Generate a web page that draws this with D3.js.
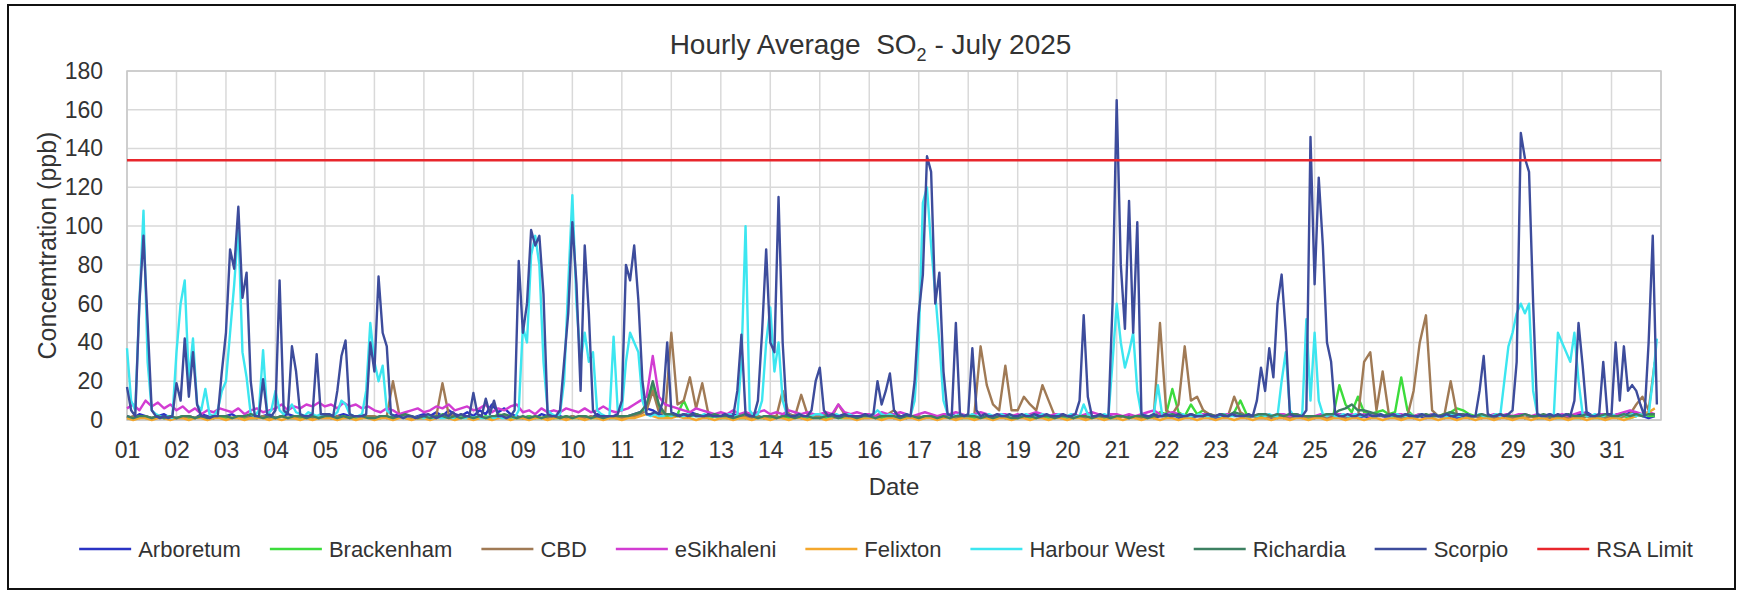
<!DOCTYPE html>
<html>
<head>
<meta charset="utf-8">
<script src="https://cdn.jsdelivr.net/npm/d3@7"></script>
<style>
  body { margin: 0; background: #fff; }
  text { font-family: "Liberation Sans", Arial, sans-serif; fill: #333; }
</style>
</head>
<body>
<div id="chart-area"></div>
<script>
// DATA (ppb). Scorpio and Harbour West read every 2 hours, the rest every 3 hours.
const stations = ["Arboretum", "Brackenham", "CBD", "eSikhaleni", "Felixton", "Harbour West", "Richardia", "Scorpio"];
const stationColors = ["#2a33c4", "#3cdc3c", "#a07a55", "#d23cd2", "#f4a72c", "#3ce6f0", "#3d8062", "#3d4c9c"];
const rsaLimit = 134;
const dayLabels = d3.range(1, 32).map(d => d3.format("02")(d));
const yTicks = d3.range(0, 181, 20);

const arboretum = [
  2,1,3,2,1,2,3,1, 1,2,2,1,3,2,1,2, 2,3,1,2,2,1,2,3, 1,2,3,2,1,2,2,1,
  2,1,2,3,2,1,2,2, 1,2,1,2,3,2,1,2, 3,2,4,2,5,3,2,4, 2,5,3,8,4,6,3,2,
  1,2,1,3,2,1,2,1, 2,1,2,1,3,2,1,2, 1,2,3,4,6,5,3,2, 2,3,2,4,3,2,1,2,
  1,2,3,2,1,2,2,1, 2,1,2,3,2,1,2,2, 1,2,1,2,3,2,1,2, 2,1,3,2,1,2,1,2,
  1,2,2,1,2,3,2,1, 2,1,2,2,1,2,1,2, 1,2,1,3,2,1,2,1, 2,1,2,1,2,1,2,2,
  1,2,2,1,3,2,1,2, 2,3,1,2,1,2,2,1, 1,2,2,3,2,1,2,2, 2,1,2,1,2,3,2,1,
  1,2,1,2,3,2,2,1, 2,1,2,2,1,2,1,2, 1,2,1,2,2,1,2,1, 2,1,2,1,2,2,1,2,
  1,2,1,2,1,2,1,2, 2,1,2,3,4,2,1,2, 2,3,2,4,3,2,1,2
];
const brackenham = [
  1,1,2,1,1,2,1,1, 1,2,1,1,2,1,1,2, 1,1,2,1,1,1,2,1, 1,2,1,1,1,2,1,1,
  2,1,1,2,1,1,1,2, 1,1,2,1,2,1,1,1, 1,2,1,3,2,1,2,1, 1,1,2,1,3,2,1,1,
  1,2,1,1,2,1,1,2, 1,1,2,1,1,2,1,1, 1,2,2,3,6,17,6,2, 2,3,10,3,2,2,1,2,
  1,1,2,1,1,2,1,1, 1,2,1,1,2,1,1,2, 1,1,2,1,1,1,2,1, 2,1,1,2,1,1,1,2,
  1,2,1,1,2,1,1,1, 1,1,2,1,1,2,1,1, 1,2,1,1,2,1,1,2, 1,1,2,1,1,2,1,1,
  1,2,1,2,2,1,2,4, 3,16,4,2,8,3,5,2, 2,3,2,4,10,3,2,2, 1,2,1,2,3,2,2,1,
  2,2,3,2,18,8,4,12, 4,3,4,5,3,4,22,5, 2,3,2,3,2,3,4,6, 5,3,2,2,1,2,2,1,
  1,2,1,2,1,1,2,1, 1,2,1,1,2,1,1,2, 2,1,2,1,2,3,2,2
];
const cbd = [
  1,2,1,2,1,2,1,1, 1,1,2,1,2,1,1,2, 2,1,1,2,1,1,2,1, 1,2,1,1,2,1,1,1,
  1,1,2,1,1,2,1,2, 2,1,2,20,3,2,1,1, 1,2,2,19,3,2,1,2, 1,2,1,2,1,2,2,1,
  1,1,2,1,1,2,1,1, 2,1,1,2,1,1,2,1, 1,2,2,3,5,15,4,3, 45,8,10,22,6,19,3,2,
  2,1,2,1,2,1,2,1, 2,2,15,3,2,13,3,2, 2,3,2,8,3,2,2,1, 1,2,2,3,5,2,1,2,
  2,1,2,1,2,1,1,2, 2,3,38,18,8,5,28,5, 5,12,8,5,18,10,2,2, 2,1,2,1,2,1,2,1,
  1,2,1,2,1,2,2,50, 5,3,8,38,10,12,5,3, 2,3,2,12,4,2,2,1, 1,2,1,2,1,2,1,2,
  1,2,1,2,2,1,2,1, 30,35,5,25,3,2,1,2, 15,40,54,5,2,3,20,3, 2,1,2,1,2,1,2,1,
  1,2,1,2,1,1,2,1, 2,1,2,1,2,1,2,1, 2,1,2,3,8,12,5,30
];
const eSikhaleni = [
  6,8,5,10,7,9,6,8, 5,7,4,6,3,5,4,6, 5,4,6,3,5,6,4,5, 6,8,5,7,6,8,7,9,
  7,8,6,9,7,8,6,7, 5,4,6,5,3,4,5,6, 4,5,7,6,8,5,6,7, 5,6,8,4,6,5,7,8,
  4,5,3,6,4,5,4,6, 5,4,6,4,5,7,5,4, 5,6,8,10,12,33,12,8, 7,6,5,4,6,5,4,3,
  4,3,5,3,4,3,4,5, 3,4,3,5,4,3,4,3, 3,4,3,8,4,3,4,3, 3,2,4,3,3,4,3,2,
  3,4,3,2,3,3,4,3, 2,3,4,3,2,3,3,2, 3,2,3,4,3,2,3,3, 2,3,2,3,4,3,2,3,
  3,2,3,2,3,4,5,3, 3,4,3,2,3,2,3,3, 2,3,3,2,3,2,2,3, 3,2,3,3,2,3,2,2,
  2,3,2,3,3,2,3,2, 3,2,3,2,2,3,3,2, 2,3,2,3,2,2,3,2, 3,2,2,3,2,3,2,3,
  2,3,3,2,3,2,3,2, 3,2,3,4,3,2,3,3, 2,3,4,5,4,3,4,3
];
const felixton = [
  1,0,1,1,0,1,1,0, 1,1,0,1,1,0,1,1, 0,1,1,0,1,1,1,0, 1,0,1,1,0,1,0,1,
  1,1,0,1,1,0,1,1, 0,1,1,0,1,1,0,1, 1,0,1,1,1,0,1,1, 0,1,1,0,1,1,0,1,
  1,0,1,1,0,1,1,0, 1,1,0,1,1,0,1,1, 0,1,1,2,3,2,1,1, 1,2,1,1,0,1,1,0,
  1,1,0,1,1,0,1,1, 0,1,1,0,1,1,0,1, 1,0,1,2,1,1,0,1, 1,1,0,1,1,0,1,1,
  0,1,1,0,1,1,0,1, 1,0,1,1,0,1,1,0, 1,1,0,1,1,0,1,1, 0,1,1,0,1,1,0,1,
  1,0,1,1,0,1,1,0, 1,1,0,1,1,0,1,1, 0,1,1,0,1,1,0,1, 1,0,1,1,0,1,1,0,
  1,1,0,1,1,0,1,1, 0,1,1,0,1,1,0,1, 1,0,1,1,0,1,1,0, 1,1,0,1,1,0,1,1,
  0,1,1,0,1,1,0,1, 1,0,1,1,0,1,1,0, 1,1,0,1,2,3,4,6
];
const richardia = [
  2,1,2,2,1,2,1,2, 1,2,2,1,2,1,2,2, 2,1,2,2,3,2,1,2, 1,2,1,2,2,1,2,1,
  2,2,1,2,1,2,2,1, 1,2,2,1,2,3,2,1, 2,1,2,2,1,2,1,2, 1,2,1,2,2,3,2,1,
  2,1,2,1,2,2,1,2, 1,2,2,1,2,1,2,2, 2,2,3,4,8,20,8,3, 3,2,3,2,3,2,2,3,
  2,2,1,2,3,2,1,2, 2,1,2,2,1,2,2,1, 1,2,2,1,2,2,1,2, 2,1,2,2,2,1,2,2,
  1,2,2,1,2,1,2,2, 2,2,1,2,1,2,2,1, 1,2,2,1,2,2,1,2, 2,1,2,2,1,2,2,1,
  2,2,1,2,2,1,2,2, 2,3,2,2,3,2,2,3, 2,3,2,4,3,2,2,3, 3,2,3,2,3,3,2,2,
  2,2,3,3,5,6,8,5, 5,4,3,2,3,2,2,3, 2,2,3,2,2,3,4,3, 3,2,2,3,2,2,3,2,
  2,2,3,2,2,3,2,2, 2,3,2,2,3,2,2,3, 2,2,3,2,3,2,3,3
];
const harbourWest = [
  37,10,5,60,108,30,5,3,2,1,2,1,    35,60,72,20,42,8,5,16,3,2,5,15,
  20,45,70,100,35,22,3,2,5,36,3,5,  15,5,3,5,8,4,3,2,4,3,2,3,
  2,3,2,4,10,8,3,2,2,3,15,50,       30,20,28,5,3,2,2,1,2,2,1,2,
  1,2,1,2,1,1,2,1,2,1,1,2,          1,2,1,1,2,1,2,1,1,2,1,5,
  48,40,85,95,80,30,5,3,2,3,20,70,  116,60,30,45,30,35,5,3,2,2,43,5,
  5,30,45,40,35,10,3,2,3,2,2,3,     2,3,2,2,3,2,2,2,3,2,2,2,
  2,2,3,2,2,30,100,5,2,3,10,40,     58,25,40,10,3,2,2,3,2,2,2,3,
  3,2,2,2,3,2,2,3,2,2,2,2,          2,3,5,3,2,3,2,2,2,3,2,10,
  40,112,120,90,65,40,10,3,2,2,3,2, 2,3,2,2,2,3,2,2,3,2,2,2,
  2,2,3,2,2,2,3,2,2,2,3,2,          2,3,2,2,8,3,2,2,2,3,2,30,
  60,40,27,35,45,15,3,2,2,3,18,3,   2,3,2,2,3,2,2,2,3,2,2,2,
  2,2,3,2,2,2,3,2,2,2,2,3,          2,3,2,2,20,35,5,2,2,3,52,10,
  45,10,3,2,3,2,2,3,2,2,3,2,        2,3,2,2,3,2,2,2,3,2,2,3,
  2,2,3,2,2,3,2,2,2,3,2,2,          2,3,2,2,3,2,2,2,3,2,20,38,
  45,55,60,55,60,15,3,2,2,3,2,45,   40,35,30,45,20,3,2,2,3,2,2,3,
  3,2,2,3,2,3,2,3,2,3,20,42
];
const scorpio = [
  17,5,2,60,95,50,5,2,1,2,1,2,      19,10,42,12,35,8,2,2,1,2,2,25,
  45,88,78,110,63,76,20,2,2,21,3,2, 5,72,5,3,38,25,3,2,2,3,34,3,
  3,3,2,15,33,41,3,2,2,2,3,40,      25,74,45,38,3,2,2,1,2,2,1,2,
  2,3,2,1,2,3,2,4,2,3,2,2,          14,3,2,11,3,10,2,2,1,2,5,82,
  45,60,98,90,95,65,3,2,2,5,30,55,  102,70,15,90,55,5,2,2,2,2,2,3,
  10,80,72,90,62,20,3,3,4,3,10,40,  4,3,2,3,2,3,2,2,2,3,2,2,
  2,3,2,2,15,44,3,2,2,10,45,88,     40,35,115,40,3,2,2,3,2,2,5,20,
  27,5,2,3,2,2,3,2,2,2,2,3,         2,3,20,8,15,24,5,2,2,3,2,20,
  55,75,136,128,60,76,25,3,2,50,3,2, 3,37,5,2,3,2,2,3,2,2,3,2,
  2,3,2,2,3,2,2,3,2,2,2,3,          2,2,3,10,54,12,2,2,3,2,2,60,
  165,80,47,113,45,102,3,2,2,3,2,2, 3,2,2,3,2,2,3,2,2,2,3,2,
  2,3,2,2,3,2,2,2,3,2,10,27,        15,37,22,60,75,45,3,2,2,2,5,146,
  70,125,90,40,30,3,2,2,3,2,2,3,    2,3,2,2,3,2,2,3,2,2,3,2,
  2,2,3,2,2,3,2,2,3,2,2,3,          2,3,2,2,15,33,3,2,2,3,2,3,
  5,30,148,135,128,60,3,2,2,3,2,3,  2,3,2,10,50,28,3,2,2,3,30,3,
  3,40,10,38,15,18,15,8,2,40,95,8
];

const stationValues = [arboretum, brackenham, cbd, eSikhaleni, felixton, harbourWest, richardia, scorpio];
const stationStep = [3, 3, 3, 3, 3, 2, 3, 2]; // hours between readings

// LAYOUT
const W = 1741, H = 592;
const margin = { left: 127, top: 71, right: 80, bottom: 172 };
const width = W - margin.left - margin.right,
      height = H - margin.top - margin.bottom;

const x = d3.scaleLinear().domain([0, 31 * 24]).range([0, width]);
const y = d3.scaleLinear().domain([0, 180]).range([height, 0]);

const svg = d3.select("#chart-area").append("svg")
    .attr("width", W)
    .attr("height", H);

// outer frame
svg.append("rect")
    .attr("x", 8).attr("y", 5)
    .attr("width", 1727).attr("height", 584)
    .attr("fill", "#fff")
    .attr("stroke", "#111")
    .attr("stroke-width", 2);

const g = svg.append("g")
    .attr("transform", "translate(" + margin.left + "," + margin.top + ")");

// gridlines
g.append("g").selectAll("line").data(yTicks).join("line")
    .attr("x1", 0).attr("x2", width)
    .attr("y1", d => y(d)).attr("y2", d => y(d))
    .attr("stroke", "#d9d9d9").attr("stroke-width", 1.5);

g.append("g").selectAll("line").data(d3.range(0, 32)).join("line")
    .attr("x1", d => x(d * 24)).attr("x2", d => x(d * 24))
    .attr("y1", 0).attr("y2", height)
    .attr("stroke", "#d9d9d9").attr("stroke-width", 1.5);

g.append("rect")
    .attr("width", width).attr("height", height)
    .attr("fill", "none")
    .attr("stroke", "#c8c8c8").attr("stroke-width", 1.5);

// axes
const xAxisCall = d3.axisBottom(x)
    .tickValues(d3.range(0, 31).map(d => d * 24))
    .tickFormat((d, i) => dayLabels[i])
    .tickSize(0)
    .tickPadding(22);

const yAxisCall = d3.axisLeft(y)
    .tickValues(yTicks)
    .tickSize(0)
    .tickPadding(24);

const xAxis = g.append("g")
    .attr("transform", "translate(0," + height + ")")
    .call(xAxisCall);
const yAxis = g.append("g").call(yAxisCall);

[xAxis, yAxis].forEach(a => {
    a.select(".domain").remove();
    a.selectAll("text")
        .attr("fill", "#333")
        .style("font-size", "23px")
        .style("font-family", "'Liberation Sans', Arial, sans-serif");
});

// lines
const line = step => d3.line()
    .x((d, i) => x(i * step))
    .y(d => y(d));

stations.forEach((name, i) => {
    g.append("path")
        .attr("fill", "none")
        .attr("stroke", stationColors[i])
        .attr("stroke-width", 2.4)
        .attr("stroke-linejoin", "round")
        .attr("d", line(stationStep[i])(stationValues[i]));
});

g.append("path")
    .attr("fill", "none")
    .attr("stroke", "#e8262c")
    .attr("stroke-width", 2.5)
    .attr("d", d3.line().x(d => x(d[0])).y(d => y(d[1]))([[0, rsaLimit], [31 * 24, rsaLimit]]));

// titles
const title = svg.append("text")
    .attr("x", W / 2)
    .attr("y", 54)
    .attr("text-anchor", "middle")
    .style("white-space", "pre")
    .style("font-size", "28px");
title.append("tspan").text("Hourly Average  SO");
title.append("tspan").attr("dy", 7).style("font-size", "18px").text("2");
title.append("tspan").attr("dy", -7).text(" - July 2025");

svg.append("text")
    .attr("x", margin.left + width / 2)
    .attr("y", 495)
    .attr("text-anchor", "middle")
    .style("font-size", "24px")
    .text("Date");

svg.append("text")
    .attr("transform", "translate(56," + (margin.top + height / 2) + ") rotate(-90)")
    .attr("text-anchor", "middle")
    .style("font-size", "25px")
    .text("Concemtration (ppb)");

// legend
const legendNames = stations.concat(["RSA Limit"]);
const legendColors = stationColors.concat(["#e8262c"]);
const legend = svg.append("g");
let lx = 0;
legendNames.forEach((name, i) => {
    const item = legend.append("g").attr("transform", "translate(" + lx + ",0)");
    item.append("line")
        .attr("x1", 0).attr("x2", 52)
        .attr("stroke", legendColors[i]).attr("stroke-width", 2.5);
    const t = item.append("text")
        .attr("x", 59).attr("dy", "0.35em")
        .style("font-size", "22px")
        .text(name);
    lx += 59 + t.node().getComputedTextLength() + 29;
});
lx -= 29;
legend.attr("transform", "translate(" + (886 - lx / 2) + ",549)");
</script>
</body>
</html>
